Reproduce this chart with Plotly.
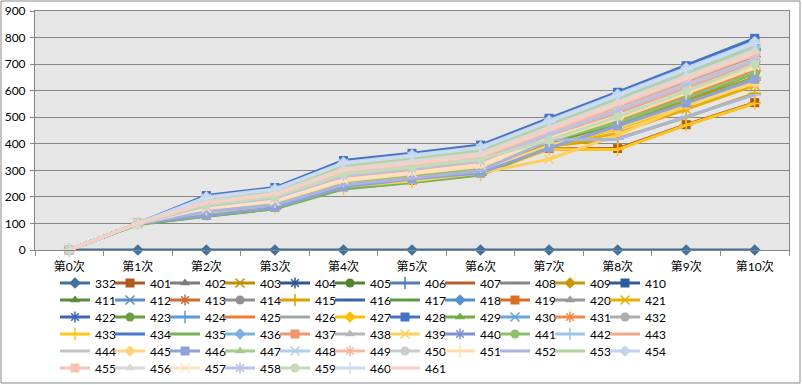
import plotly.graph_objects as go

categories = ['第0次', '第1次', '第2次', '第3次', '第4次', '第5次', '第6次', '第7次', '第8次', '第9次', '第10次']
y_ticks = [0, 100, 200, 300, 400, 500, 600, 700, 800, 900]

series_names = ['332', '401', '402', '403', '404', '405', '406', '407', '408', '409', '410',
                '411', '412', '413', '414', '415', '416', '417', '418', '419', '420', '421',
                '422', '423', '424', '425', '426', '427', '428', '429', '430', '431', '432',
                '433', '434', '435', '436', '437', '438', '439', '440', '441', '442', '443',
                '444', '445', '446', '447', '448', '449', '450', '451', '452', '453', '454',
                '455', '456', '457', '458', '459', '460', '461']

s332 = [0, 0, 0, 0, 0, 0, 0, 0, 0, 0, 0]
s401 = [0, 100, 140, 165, 240, 262, 290, 382, 382, 472, 555]
s402 = [0, 100, 165, 195, 280, 305, 335, 430, 520, 615, 712]
s403 = [0, 100, 150, 178, 255, 280, 310, 405, 470, 560, 650]
s404 = [0, 100, 190, 222, 320, 348, 378, 475, 570, 665, 752]
s405 = [0, 100, 175, 205, 300, 325, 355, 455, 545, 640, 738]
s406 = [0, 100, 160, 188, 270, 295, 325, 420, 500, 590, 685]
s407 = [0, 100, 138, 162, 236, 260, 288, 381, 380, 471, 553]
s408 = [0, 100, 170, 200, 290, 315, 345, 440, 535, 630, 728]
s409 = [0, 100, 152, 182, 262, 290, 320, 400, 475, 565, 668]
s410 = [0, 100, 200, 230, 330, 357, 387, 488, 588, 688, 788]
s411 = [0, 100, 168, 198, 285, 312, 340, 445, 535, 628, 725]
s412 = [0, 100, 162, 190, 272, 298, 328, 423, 505, 598, 695]
s413 = [0, 100, 158, 185, 265, 292, 322, 418, 495, 585, 678]
s414 = [0, 100, 172, 204, 292, 318, 348, 445, 540, 635, 735]
s415 = [0, 100, 145, 170, 248, 270, 298, 392, 420, 500, 590]
s416 = [0, 100, 185, 218, 312, 340, 370, 468, 565, 660, 758]
s417 = [0, 98, 128, 156, 232, 256, 284, 395, 460, 545, 640]
s418 = [0, 100, 178, 210, 302, 330, 360, 458, 552, 648, 745]
s419 = [0, 100, 155, 182, 260, 286, 316, 412, 485, 575, 670]
s420 = [0, 100, 168, 200, 288, 314, 344, 440, 532, 626, 722]
s421 = [0, 100, 142, 168, 245, 268, 296, 390, 440, 530, 620]
s422 = [0, 100, 170, 198, 282, 308, 338, 432, 522, 615, 712]
s423 = [0, 100, 148, 175, 252, 278, 306, 402, 478, 570, 665]
s424 = [0, 100, 182, 215, 308, 335, 365, 462, 558, 655, 752]
s425 = [0, 100, 152, 180, 258, 284, 312, 408, 488, 580, 675]
s426 = [0, 100, 176, 208, 298, 325, 355, 452, 550, 645, 742]
s427 = [0, 100, 146, 172, 250, 273, 300, 395, 455, 545, 640]
s428 = [0, 100, 205, 235, 337, 364, 395, 496, 594, 694, 797]
s429 = [0, 100, 174, 206, 298, 324, 352, 450, 548, 642, 740]
s430 = [0, 100, 180, 212, 305, 332, 362, 460, 556, 652, 750]
s431 = [0, 100, 156, 184, 262, 288, 318, 414, 492, 582, 675]
s432 = [0, 100, 166, 196, 282, 308, 338, 435, 528, 622, 718]
s433 = [0, 100, 135, 160, 232, 256, 284, 380, 378, 470, 552]
s434 = [0, 100, 188, 220, 316, 344, 374, 472, 568, 664, 760]
s435 = [0, 96, 127, 155, 230, 254, 282, 388, 468, 552, 648]
s436 = [0, 100, 184, 216, 310, 337, 367, 465, 560, 658, 755]
s437 = [0, 100, 160, 190, 270, 296, 326, 425, 510, 602, 700]
s438 = [0, 100, 172, 203, 292, 318, 348, 446, 542, 638, 735]
s439 = [0, 100, 140, 165, 238, 260, 290, 342, 433, 545, 630]
s440 = [0, 100, 164, 194, 278, 304, 333, 430, 515, 608, 705]
s441 = [0, 100, 150, 178, 256, 282, 310, 410, 480, 572, 668]
s442 = [0, 100, 192, 224, 322, 350, 380, 478, 575, 672, 770]
s443 = [0, 100, 162, 192, 274, 300, 330, 428, 518, 612, 710]
s444 = [0, 100, 178, 210, 300, 328, 358, 456, 552, 650, 745]
s445 = [0, 100, 142, 168, 244, 266, 296, 392, 462, 550, 628]
s446 = [0, 100, 130, 160, 237, 267, 290, 384, 467, 553, 643]
s447 = [0, 100, 186, 218, 312, 340, 370, 466, 562, 660, 758]
s448 = [0, 100, 194, 226, 325, 352, 383, 480, 578, 676, 775]
s449 = [0, 100, 168, 198, 284, 310, 340, 438, 530, 625, 720]
s450 = [0, 100, 180, 212, 304, 330, 360, 458, 555, 652, 748]
s451 = [0, 100, 154, 182, 260, 286, 314, 412, 495, 590, 685]
s452 = [0, 100, 144, 170, 246, 270, 298, 414, 417, 502, 584]
s453 = [0, 100, 188, 220, 316, 344, 374, 470, 566, 664, 762]
s454 = [0, 100, 200, 230, 330, 358, 388, 488, 586, 686, 785]
s455 = [0, 100, 175, 206, 296, 322, 352, 450, 545, 642, 735]
s456 = [0, 100, 182, 214, 306, 334, 364, 462, 558, 656, 752]
s457 = [0, 100, 158, 186, 266, 292, 322, 420, 505, 600, 695]
s458 = [0, 100, 166, 196, 280, 306, 336, 434, 526, 620, 715]
s459 = [0, 100, 170, 200, 286, 312, 342, 414, 502, 598, 700]
s460 = [0, 100, 196, 228, 326, 354, 385, 483, 582, 680, 778]
s461 = [0, 100, 178, 208, 300, 326, 356, 454, 550, 646, 742]

series_values = [s332, s401, s402, s403, s404, s405, s406, s407, s408, s409, s410,
                 s411, s412, s413, s414, s415, s416, s417, s418, s419, s420, s421,
                 s422, s423, s424, s425, s426, s427, s428, s429, s430, s431, s432,
                 s433, s434, s435, s436, s437, s438, s439, s440, s441, s442, s443,
                 s444, s445, s446, s447, s448, s449, s450, s451, s452, s453, s454,
                 s455, s456, s457, s458, s459, s460, s461]

colors = ['#41719C', '#AE5A21', '#7C7C7C', '#BF9000', '#2F5597', '#548235', '#4F7FB5', '#B5602A',
          '#858585', '#C9980A', '#305A9E', '#5A8A3A', '#5B8DC8', '#CC6A30', '#8F8F8F', '#D9A300',
          '#3A62AE', '#619A3E', '#5490CC', '#DA6C2A', '#9A9A9A', '#E8AE00', '#3F66B4', '#67A040',
          '#5B9BD5', '#ED7D31', '#A5A5A5', '#FFC000', '#4472C4', '#70AD47', '#6AA5DB', '#EF8A45',
          '#ADADAD', '#FFC519', '#4A78CC', '#78B352', '#7CAFE0', '#F1956A', '#B7B7B7', '#FFCF5C',
          '#7C92D4', '#8DBF6C', '#9DC3E6', '#F4A98A', '#C3C3C3', '#FFD37F', '#8FA2D6', '#A5CA8C',
          '#B4CDEB', '#F5B9A3', '#CBCBCB', '#FFDCAD', '#A9B5DE', '#B3D3A0', '#C0D4EE', '#F5C3B3',
          '#D8D8D8', '#FFE2C4', '#BAC2E6', '#C3DBB6', '#CCDCF0', '#F8CFC5']

symbols = ['diamond', 'square', 'triangle-up', 'x-thin-open', 'asterisk-open', 'circle',
           'cross-thin-open', 'line-ew-open', 'line-ew-open']

FONT = 'Lato, "Noto Sans CJK SC", sans-serif'
GRID = '#878787'
PER_ROW = 11
FS = 12

# pixel geometry of the plot area
L, R, T, B = 35, 13, 11, 135
W = 802 - L - R
H = 385 - T - B


def legend_key(row):
    return 'legend' if row == 0 else 'legend%d' % (row + 1)


fig = go.Figure()
n = len(series_names)
for i, (name, vals) in enumerate(zip(series_names, series_values)):
    c = colors[i]
    sym = symbols[i % len(symbols)]
    is_open = sym.endswith('-open')
    last_in_row = ((i + 1) % PER_ROW == 0) or (i == n - 1)
    fig.add_trace(go.Scatter(
        x=categories, y=vals, name=name, mode='lines+markers',
        line=dict(color=c, width=3),
        marker=dict(symbol=sym, size=9, color=c,
                    line=dict(color=c, width=1.5 if is_open else 0)),
        legend=legend_key(i // PER_ROW),
        legendwidth=(80 / W) if last_in_row else (55 / W),
        cliponaxis=False,
    ))

legend_common = dict(orientation='h', xanchor='left', yanchor='top',
                     x=(55 - L) / W, entrywidth=55 / W, entrywidthmode='fraction',
                     bgcolor='rgba(0,0,0,0)', font=dict(family=FONT, size=FS, color='#000000'),
                     itemclick=False, itemdoubleclick=False)
row_centers = [283, 300, 317, 334, 351, 368]
legends = {}
for r, cy in enumerate(row_centers):
    top = cy - 14.5
    legends[legend_key(r)] = dict(legend_common, y=(385 - B - top) / H)

fig.update_layout(
    width=802, height=385,
    margin=dict(l=L, r=R, t=T, b=B, autoexpand=False),
    paper_bgcolor='#FFFFFF', plot_bgcolor='#E6E6E6',
    font=dict(family=FONT, size=FS, color='#000000'),
    showlegend=True,
    **legends,
    xaxis=dict(type='category', tickson='boundaries', ticks='outside', ticklen=5,
               tickcolor=GRID, showgrid=False, showline=True, linecolor=GRID, linewidth=1,
               mirror=True, tickfont=dict(family=FONT, size=FS, color='#000000'),
               ticklabelstandoff=6, range=[-0.5, 10.5]),
    yaxis=dict(range=[0, 900], tickvals=y_ticks, ticks='outside', ticklen=4, tickcolor=GRID,
               showgrid=True, gridcolor=GRID, gridwidth=1, showline=True, linecolor=GRID,
               mirror=True, zeroline=False, ticklabelstandoff=2,
               tickfont=dict(family=FONT, size=FS, color='#000000')),
    shapes=[dict(type='rect', xref='paper', yref='paper',
                 x0=(1 - L) / W, x1=(800 - L) / W,
                 y0=(385 - B - 383) / H, y1=(385 - B - 1) / H,
                 line=dict(color='#898989', width=1), fillcolor='rgba(0,0,0,0)', layer='below')],
)

fig.write_html('out.html', config={'displayModeBar': False},
               post_script="document.body.style.margin='0px';")
